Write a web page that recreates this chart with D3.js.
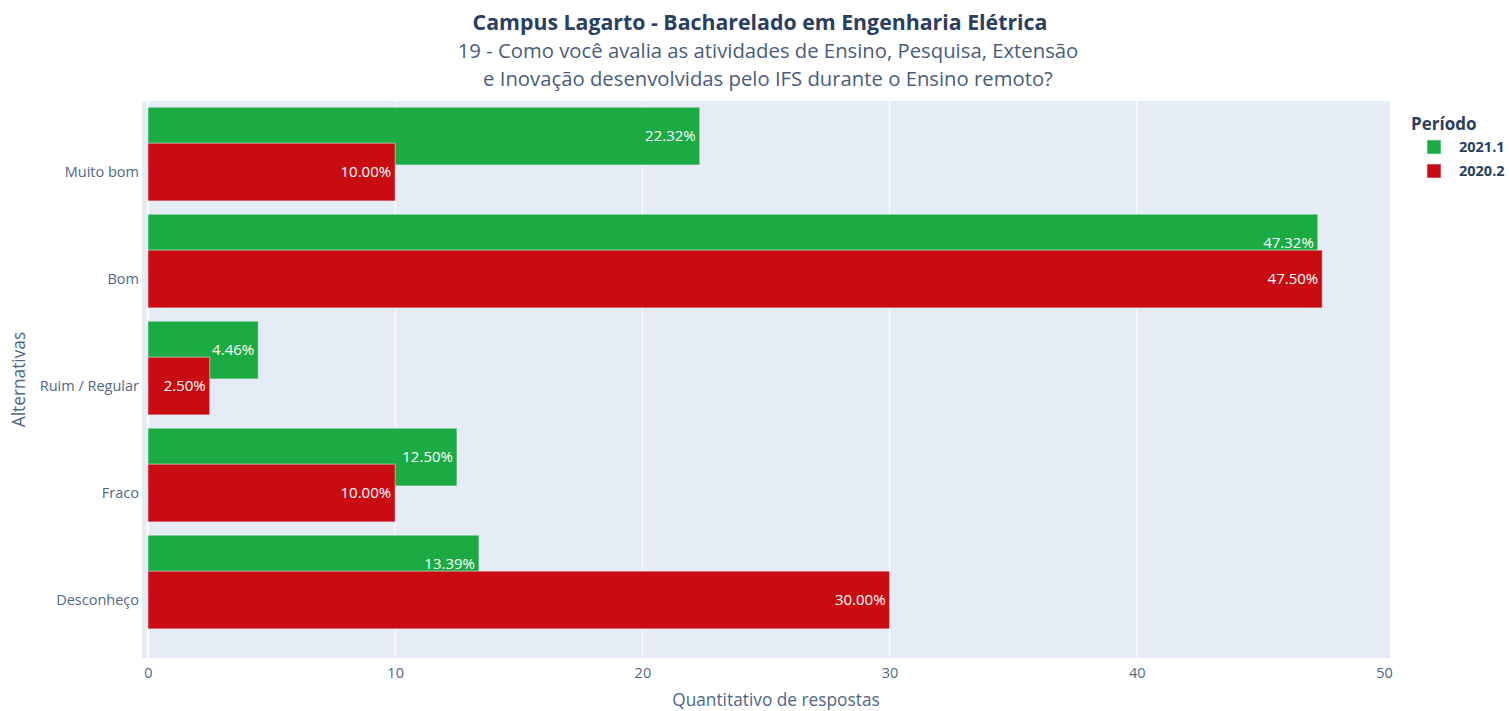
<!DOCTYPE html>
<html>
<head>
<meta charset="utf-8">
<script src="https://cdn.jsdelivr.net/npm/d3@7"></script>
<style>
  html, body { margin: 0; padding: 0; background: #fff; }
  svg text { font-family: "Open Sans", "Noto Sans", sans-serif; }
</style>
</head>
<body>
<svg id="chart" width="1509" height="711"></svg>
<script>
// Survey answers, percentage of respondents per alternative
const categories = ["Muito bom", "Bom", "Ruim / Regular", "Fraco", "Desconheço"];
const series = ["2021.1", "2020.2"];
const values2021_1 = [22.32, 47.32, 4.46, 12.50, 13.39];
const values2020_2 = [10.00, 47.50, 2.50, 10.00, 30.00];
const xTicks = [0, 10, 20, 30, 40, 50];
const colors = { "2021.1": "#1cab43", "2020.2": "#c80c12" };

const svg = d3.select("#chart");
const plot = { left: 142, right: 1390, top: 101, bottom: 658 };

const x = d3.scaleLinear().domain([-0.24, 50.24]).range([plot.left, plot.right]);
// categorical positions as indices; bars offset in index units
const y = d3.scaleLinear().domain([-0.664, 4.542]).range([plot.top, plot.bottom]);
const barHalf = 0.27;
const offsets = { "2021.1": -0.336, "2020.2": 0 };

// background
svg.append("rect")
  .attr("x", plot.left).attr("y", plot.top)
  .attr("width", plot.right - plot.left).attr("height", plot.bottom - plot.top)
  .attr("fill", "#e5ecf6");

// grid
svg.append("g").selectAll("line").data(xTicks.filter(d => d > 0 && d < 50)).join("line")
  .attr("x1", d => x(d)).attr("x2", d => x(d))
  .attr("y1", plot.top).attr("y2", plot.bottom)
  .attr("stroke", "#fff").attr("stroke-width", 1);
svg.append("line")
  .attr("x1", x(0)).attr("x2", x(0)).attr("y1", plot.top).attr("y2", plot.bottom)
  .attr("stroke", "#fff").attr("stroke-width", 2);

// x axis
const xAxis = d3.axisBottom(x).tickValues(xTicks).tickSize(0).tickPadding(10);
const gx = svg.append("g").attr("transform", `translate(0,${plot.bottom})`).call(xAxis);
gx.select(".domain").remove();
gx.selectAll("text").attr("fill", "#506784").attr("font-size", 14.5)
  .style("font-family", "'Open Sans', sans-serif");

// y axis
const yAxis = d3.axisLeft(y).tickValues(d3.range(categories.length))
  .tickFormat(i => categories[i]).tickSize(0).tickPadding(3);
const gy = svg.append("g").attr("transform", `translate(${plot.left},0)`).call(yAxis);
gy.select(".domain").remove();
gy.selectAll("text").attr("fill", "#506784").attr("font-size", 14.5)
  .style("font-family", "'Open Sans', sans-serif");

// bars, drawn series by series so later bars sit over earlier labels
const seriesData = [
  { name: "2021.1", values: values2021_1 },
  { name: "2020.2", values: values2020_2 }
];
seriesData.forEach(s => {
  const g = svg.append("g");
  const rows = s.values.map((v, i) => ({ v, i }));
  g.selectAll("rect").data(rows).join("rect")
    .attr("x", x(0))
    .attr("y", d => y(d.i + offsets[s.name] - barHalf))
    .attr("width", d => x(d.v) - x(0))
    .attr("height", d => y(d.i + offsets[s.name] + barHalf) - y(d.i + offsets[s.name] - barHalf))
    .attr("fill", colors[s.name])
    .attr("stroke", "rgba(229,236,246,0.6)")
    .attr("stroke-width", 1);
  g.selectAll("text").data(rows).join("text")
    .attr("x", d => x(d.v) - 4)
    .attr("y", d => y(d.i + offsets[s.name]))
    .attr("dy", "0.35em")
    .attr("text-anchor", "end")
    .attr("fill", "#fff")
    .attr("font-size", 15)
    .attr("font-weight", 500)
    .text(d => d.v.toFixed(2) + "%");
});

// titles
svg.append("text").attr("x", 760).attr("y", 30).attr("text-anchor", "middle")
  .attr("font-size", 21.3).attr("font-weight", "bold").attr("fill", "#2a3f5f")
  .text("Campus Lagarto - Bacharelado em Engenharia Elétrica");
svg.append("text").attr("x", 768).attr("y", 58).attr("text-anchor", "middle")
  .attr("font-size", 20.3).attr("fill", "#4a5d79")
  .text("19 - Como você avalia as atividades de Ensino, Pesquisa, Extensão");
svg.append("text").attr("x", 768).attr("y", 86).attr("text-anchor", "middle")
  .attr("font-size", 20.3).attr("fill", "#4a5d79")
  .text("e Inovação desenvolvidas pelo IFS durante o Ensino remoto?");

// axis titles
svg.append("text").attr("x", (x(0) + x(50)) / 2 + 10).attr("y", 706).attr("text-anchor", "middle")
  .attr("font-size", 17.3).attr("fill", "#506784").text("Quantitativo de respostas");
svg.append("text").attr("transform", `translate(25,${(plot.top + plot.bottom) / 2}) rotate(-90)`)
  .attr("text-anchor", "middle").attr("font-size", 17.3).attr("fill", "#506784").text("Alternativas");

// legend
const lg = svg.append("g").attr("transform", "translate(1411,0)");
lg.append("text").attr("x", 0).attr("y", 130).attr("font-size", 17).attr("font-weight", "bold")
  .attr("fill", "#2a3f5f").text("Período");
series.forEach((name, k) => {
  const yy = 147 + k * 24;
  lg.append("rect").attr("x", 16).attr("y", yy - 7).attr("width", 14).attr("height", 14)
    .attr("fill", colors[name]).attr("stroke", "rgba(229,236,246,0.6)");
  lg.append("text").attr("x", 48).attr("y", yy).attr("dy", "0.35em")
    .attr("font-size", 14.5).attr("font-weight", "bold").attr("fill", "#2a3f5f").text(name);
});
</script>
</body>
</html>
